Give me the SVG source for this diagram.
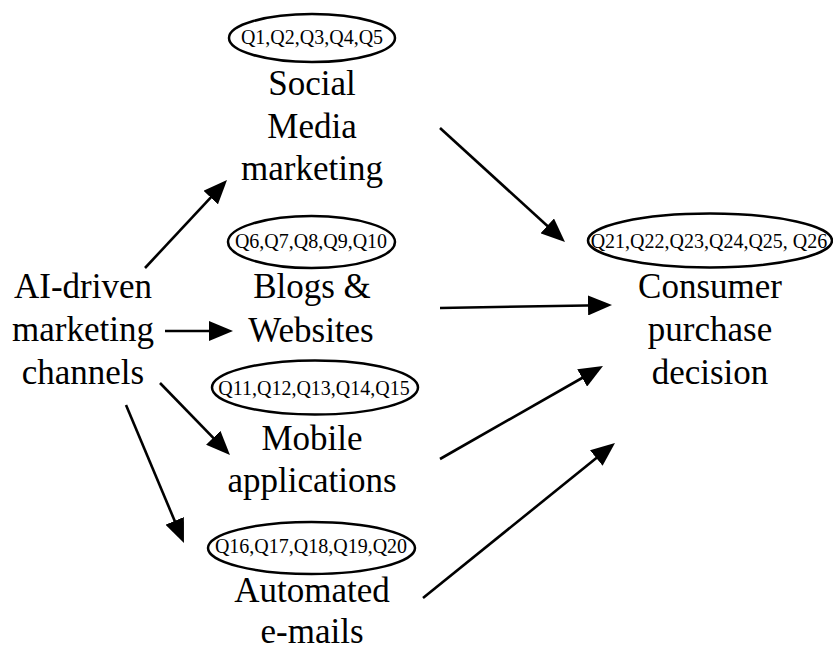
<svg xmlns="http://www.w3.org/2000/svg" width="833" height="651" viewBox="0 0 833 651">
<style>
.bg{fill:#fff}
.ell{fill:none;stroke:#000;stroke-width:2.5}
.q{font-family:'Liberation Serif','Times New Roman','DejaVu Serif',serif;font-size:20px;fill:#000;text-anchor:middle}
.t{font-family:'Liberation Serif','Times New Roman','DejaVu Serif',serif;font-size:35px;fill:#000;text-anchor:middle}
.arr{fill:none;stroke:#000;stroke-width:2.6;marker-end:url(#ah)}
</style>
<defs>
<marker id="ah" viewBox="0 0 24 20" refX="14" refY="10" markerWidth="24" markerHeight="20" markerUnits="userSpaceOnUse" orient="auto">
<path d="M0,0 L24,10 L0,20 Z" fill="#000"/>
</marker>
</defs>
<rect class="bg" x="0" y="0" width="833" height="651"/>
<g id="connectors">
<line class="arr" x1="145" y1="268" x2="220.2" y2="187.3"/>
<line class="arr" x1="165" y1="331" x2="223" y2="331"/>
<line class="arr" x1="160" y1="383" x2="223" y2="447.8"/>
<line class="arr" x1="126" y1="405" x2="180.1" y2="533.8"/>
<line class="arr" x1="440" y1="128" x2="557.6" y2="235.3"/>
<line class="arr" x1="440" y1="308" x2="602" y2="305.2"/>
<line class="arr" x1="440" y1="459" x2="594.3" y2="371"/>
<line class="arr" x1="423" y1="598" x2="607.2" y2="449.3"/>
</g>
<g id="ai">
<text class="t" x="83" y="298">AI-driven</text>
<text class="t" x="83" y="341">marketing</text>
<text class="t" x="83" y="384">channels</text>
</g>
<g id="social">
<ellipse class="ell" cx="312" cy="38" rx="83" ry="24"/>
<text class="q" x="312" y="44">Q1,Q2,Q3,Q4,Q5</text>
<text class="t" x="312" y="95">Social</text>
<text class="t" x="312" y="138">Media</text>
<text class="t" x="312" y="180">marketing</text>
</g>
<g id="blogs">
<ellipse class="ell" cx="311.5" cy="242" rx="83.5" ry="26"/>
<text class="q" x="311" y="248">Q6,Q7,Q8,Q9,Q10</text>
<text class="t" x="312" y="298">Blogs &amp;</text>
<text class="t" x="311" y="342">Websites</text>
</g>
<g id="mobile">
<ellipse class="ell" cx="315" cy="387.5" rx="103" ry="27"/>
<text class="q" x="314" y="395">Q11,Q12,Q13,Q14,Q15</text>
<text class="t" x="312" y="450">Mobile</text>
<text class="t" x="312" y="492">applications</text>
</g>
<g id="emails">
<ellipse class="ell" cx="311.5" cy="548" rx="103.5" ry="26"/>
<text class="q" x="311" y="553">Q16,Q17,Q18,Q19,Q20</text>
<text class="t" x="312" y="602">Automated</text>
<text class="t" x="312" y="643">e-mails</text>
</g>
<g id="consumer">
<ellipse class="ell" cx="710" cy="240.5" rx="122" ry="27"/>
<text class="q" x="709" y="248">Q21,Q22,Q23,Q24,Q25, Q26</text>
<text class="t" x="710" y="298">Consumer</text>
<text class="t" x="710" y="341">purchase</text>
<text class="t" x="710" y="384">decision</text>
</g>
</svg>
